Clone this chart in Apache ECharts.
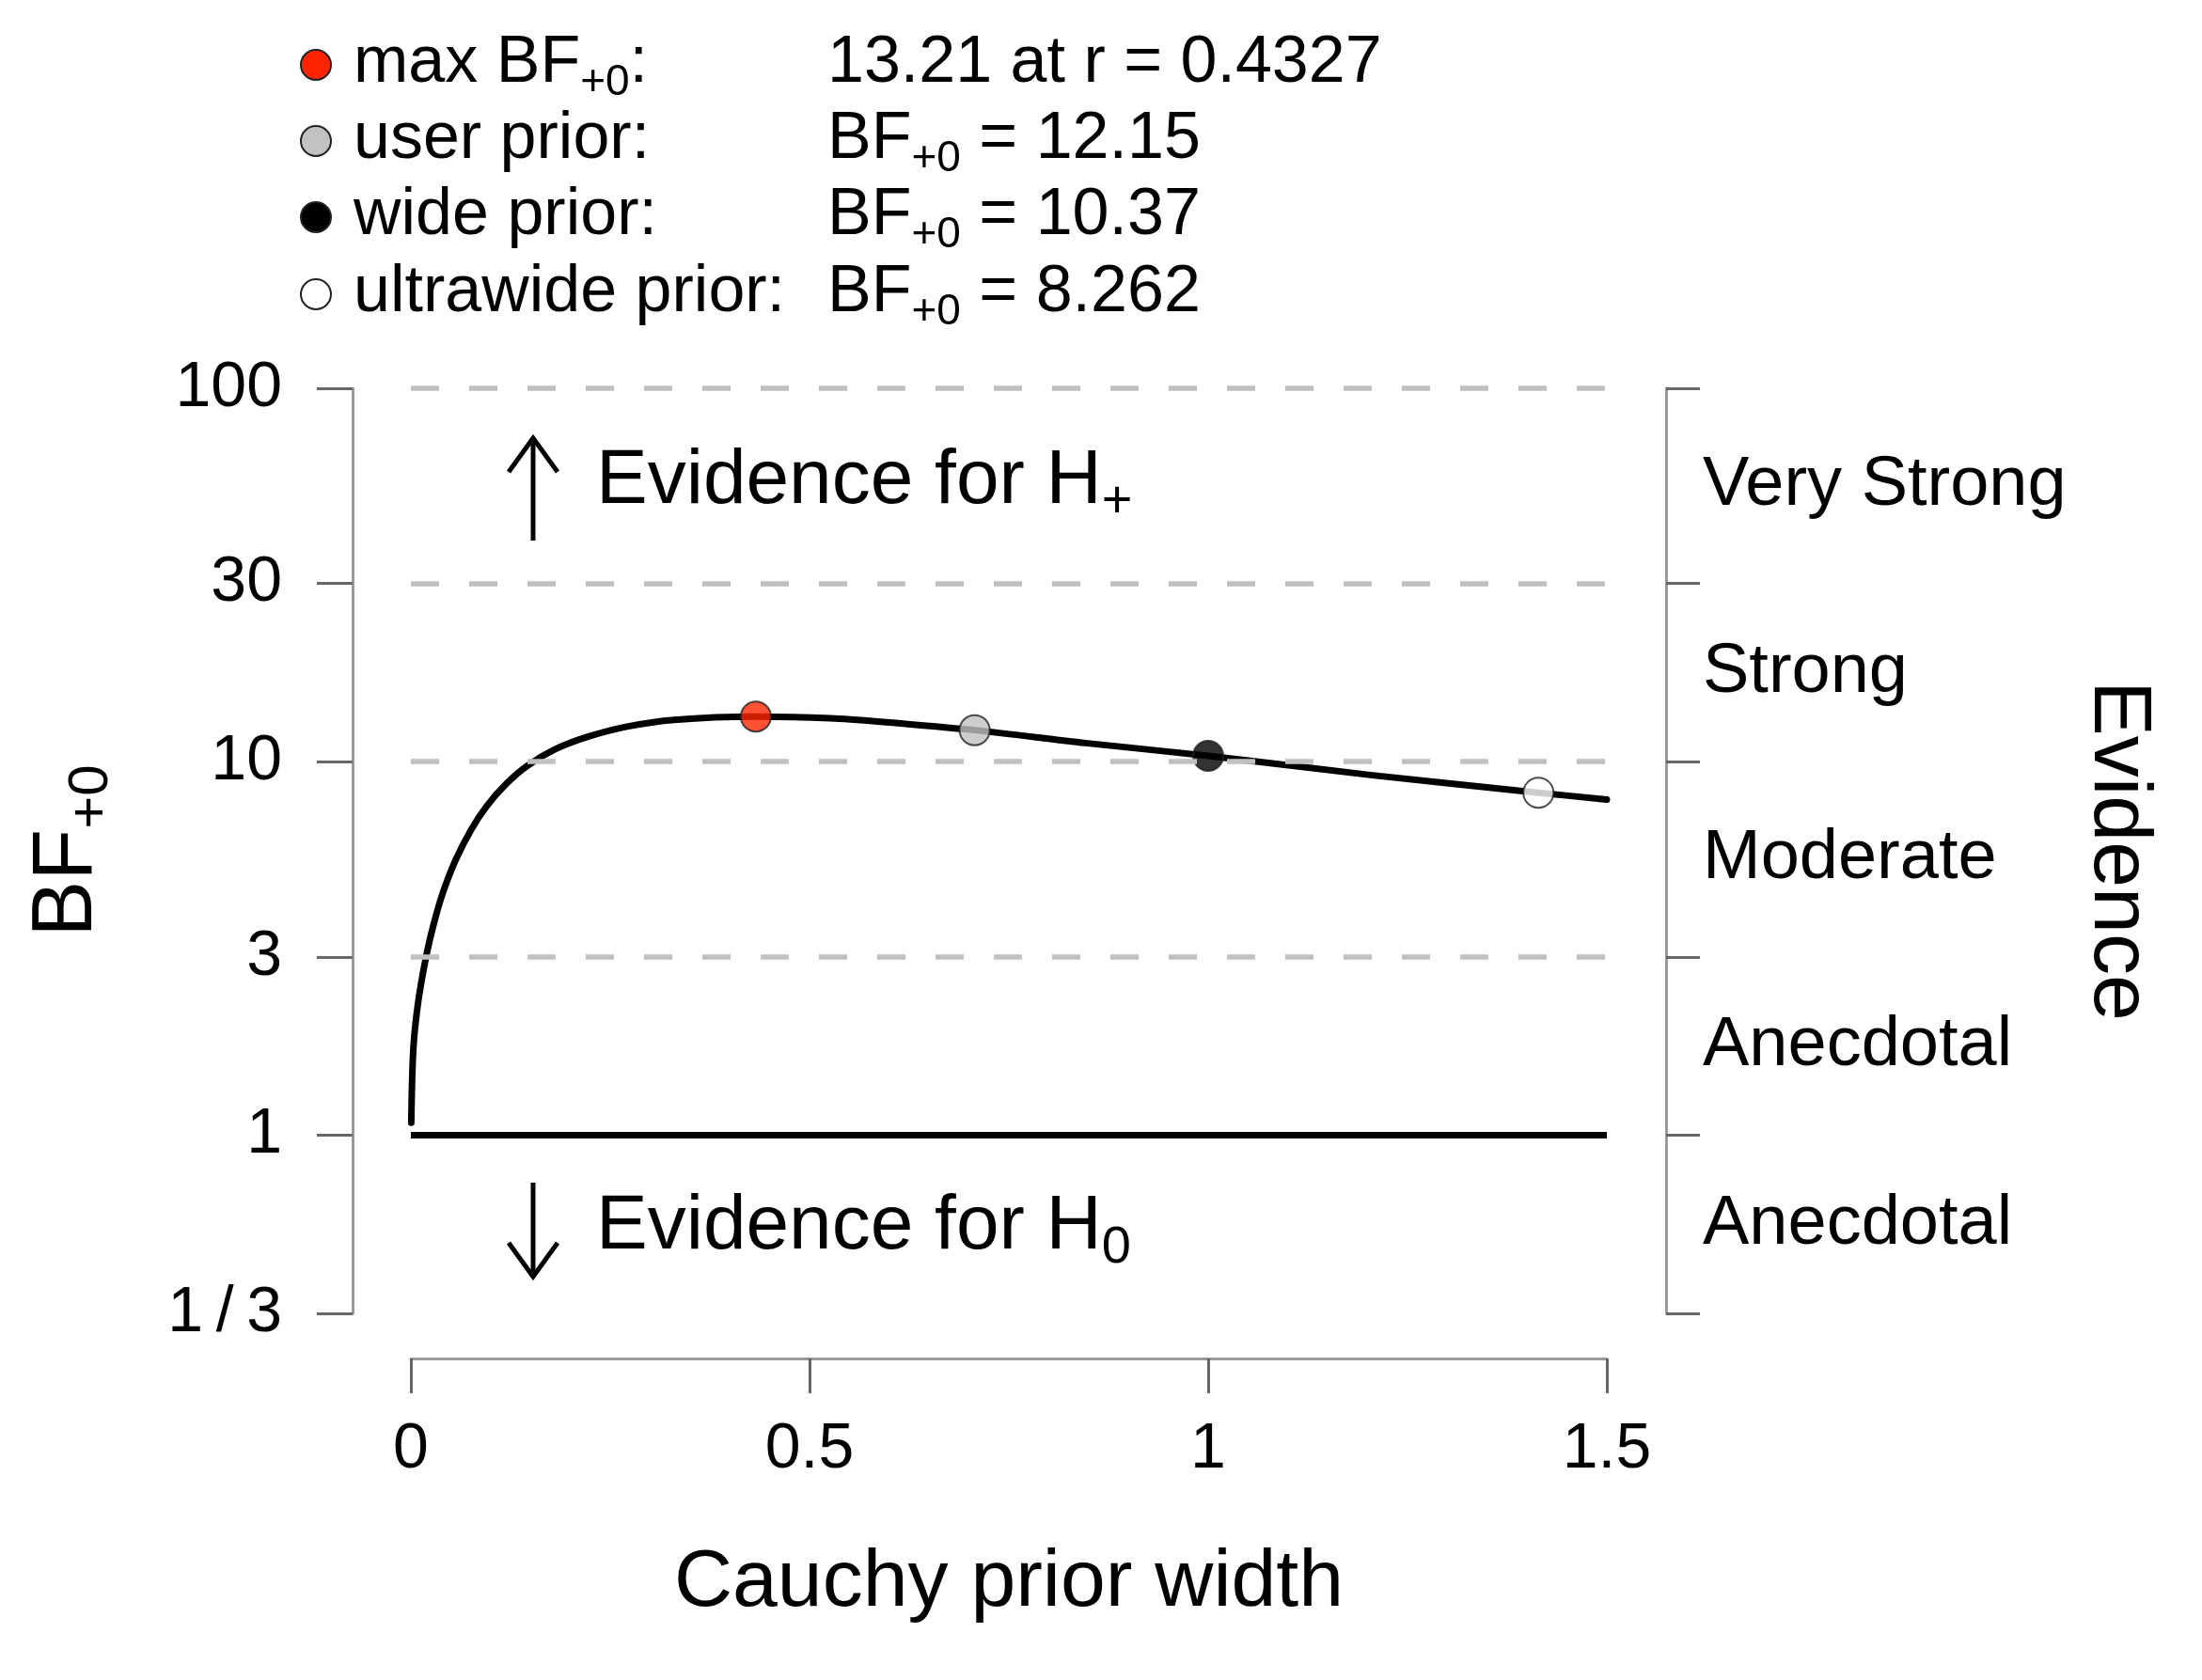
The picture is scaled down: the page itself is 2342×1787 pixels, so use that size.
<!DOCTYPE html>
<html>
<head>
<meta charset="utf-8">
<script src="https://cdn.jsdelivr.net/npm/echarts@6/dist/echarts.min.js"></script>
<style>
html, body { margin: 0; padding: 0; background: #fff; }
#chart { width: 2342px; height: 1787px; }
</style>
</head>
<body>
<div id="chart"></div>
<script>
// robustness curve: BF+0 against Cauchy prior width
const priorWidth = [0.0005, 0.003, 0.009, 0.019, 0.029, 0.040, 0.056, 0.076, 0.095, 0.119, 0.146, 0.181, 0.221, 0.271, 0.330, 0.4327, 0.526, 0.589, 0.7071, 0.846, 1.0, 1.206, 1.4142, 1.5];
const bfCurve = [1.08, 1.69, 2.26, 3.0, 3.7, 4.45, 5.45, 6.6, 7.6, 8.7, 9.75, 10.8, 11.65, 12.42, 12.95, 13.21, 13.08, 12.8, 12.15, 11.22, 10.37, 9.2, 8.262, 7.92];

// highlighted priors
const pointNames = ['max BF', 'user prior', 'wide prior', 'ultrawide prior'];
const pointWidth = [0.4327, 0.7071, 1, 1.4142];
const pointBF = [13.21, 12.15, 10.37, 8.262];
const pointColors = ['#ff2500', '#c2c2c2', '#000000', '#ffffff'];

// null line at BF = 1
const nullWidth = [0, 1.5];
const nullBF = [1, 1];

// axes
const xTicks = [0, 0.5, 1, 1.5];
const yTicks = [1 / 3, 1, 3, 10, 30, 100];
const yTickLabels = ['1\u2009/\u20093', '1', '3', '10', '30', '100'];
const gridValues = [1 / 3, 3, 10, 30, 100];
const evidenceBounds = [1 / 3, 1, 3, 10, 30, 100];
const evidenceLabels = ['Anecdotal', 'Anecdotal', 'Moderate', 'Strong', 'Very Strong'];

const FONT = "'Liberation Sans', Arial, Helvetica, sans-serif";
const evidenceMid = evidenceLabels.map((_, i) => Math.sqrt(evidenceBounds[i] * evidenceBounds[i + 1]));

function nearest(list, v) {
	let best = 0;
	list.forEach((x, i) => { if (Math.abs(Math.log(x) - Math.log(v)) < Math.abs(Math.log(list[best]) - Math.log(v))) best = i; });
	return best;
}

const chart = echarts.init(document.getElementById('chart'), null, { renderer: 'canvas' });

// subscript text: main run padded at the bottom, subscript bottom aligned
const richMain = {
	a: { fontSize: 70, fontFamily: FONT, color: '#000', padding: [0, 0, 8, 0], verticalAlign: 'bottom' },
	s: { fontSize: 46, fontFamily: FONT, color: '#000', verticalAlign: 'bottom' }
};
const richBig = {
	a: { fontSize: 82, fontFamily: FONT, color: '#000', padding: [0, 0, 10, 0], verticalAlign: 'bottom' },
	s: { fontSize: 56, fontFamily: FONT, color: '#000', verticalAlign: 'bottom' }
};

// legend block built from the point arrays
const legendBaseline = [91, 172, 253, 335];
const legendGraphics = [];
pointNames.forEach((name, i) => {
	const b = legendBaseline[i];
	legendGraphics.push({
		type: 'circle', shape: { cx: 336, cy: b - 22, r: 16 },
		style: { fill: pointColors[i], stroke: '#222', lineWidth: 2 }
	});
	const left = i === 0 ? '{a|max BF}{s|+0}{a|:}' : '{a|' + name + ':}';
	const right = i === 0
		? '{a|' + pointBF[i] + ' at r = ' + pointWidth[i] + '}'
		: '{a|BF}{s|+0}{a| = ' + pointBF[i] + '}';
	[[376, left], [880, right]].forEach(([x, txt]) => legendGraphics.push({
		type: 'text', x: x, y: b - 19,
		style: { text: txt, rich: richMain, align: 'left', verticalAlign: 'middle', textAlign: 'left', textVerticalAlign: 'middle' }
	}));
});

const arrowStyle = { stroke: '#000', lineWidth: 5, fill: null };
const annotations = [
	{ type: 'polyline', shape: { points: [[567, 575], [567, 466]] }, style: arrowStyle },
	{ type: 'polyline', shape: { points: [[541, 502], [567, 466], [593, 502]] }, style: arrowStyle },
	{ type: 'polyline', shape: { points: [[567, 1258], [567, 1358]] }, style: arrowStyle },
	{ type: 'polyline', shape: { points: [[541, 1322], [567, 1358], [593, 1322]] }, style: arrowStyle },
	{
		type: 'text', x: 634, y: 517,
		style: { text: '{a|Evidence for H}{s|+}', rich: richBig, align: 'left', verticalAlign: 'middle', textAlign: 'left', textVerticalAlign: 'middle' }
	},
	{
		type: 'text', x: 634, y: 1310,
		style: { text: '{a|Evidence for H}{s|0}', rich: richBig, align: 'left', verticalAlign: 'middle', textAlign: 'left', textVerticalAlign: 'middle' }
	}
];

const axisLineStyle = { color: '#9a9a9a', width: 3 };
const tickStyle = { color: '#666', width: 3 };

const option = {
	animation: false,
	backgroundColor: '#fff',
	textStyle: { fontFamily: FONT },
	grid: { left: 437, right: 633, top: 413, bottom: 390, containLabel: false },
	xAxis: {
		type: 'value', min: 0, max: 1.5, interval: 0.5, offset: 48,
		axisLine: { show: true, onZero: false, lineStyle: axisLineStyle },
		axisTick: { show: true, length: 37, lineStyle: tickStyle },
		axisLabel: { fontSize: 68, color: '#000', margin: 63, fontFamily: FONT },
		splitLine: { show: false },
		name: 'Cauchy prior width', nameLocation: 'middle', nameGap: 196,
		nameTextStyle: { fontSize: 86, color: '#000', fontFamily: FONT }
	},
	yAxis: [{
		type: 'log', min: 1 / 3, max: 100, offset: 62,
		axisLine: { show: true, onZero: false, lineStyle: axisLineStyle },
		axisTick: { show: true, length: 38, customValues: yTicks, lineStyle: tickStyle },
		axisLabel: {
			fontSize: 68, color: '#000', margin: 75, fontFamily: FONT, customValues: yTicks,
			formatter: v => yTickLabels[nearest(yTicks, v)]
		},
		splitLine: { show: false },
		minorTick: { show: false },
		name: '{a|BF}{s|+0}', nameLocation: 'middle', nameRotate: 90, nameGap: 248,
		nameTextStyle: { rich: {
			a: { fontSize: 90, fontFamily: FONT, color: '#000', padding: [0, 0, 10, 0], verticalAlign: 'bottom' },
			s: { fontSize: 60, fontFamily: FONT, color: '#000', verticalAlign: 'bottom' }
		} }
	}, {
		type: 'log', min: 1 / 3, max: 100, position: 'right', offset: 63,
		axisLine: { show: true, onZero: false, lineStyle: axisLineStyle },
		axisTick: { show: true, length: 36, customValues: evidenceBounds, lineStyle: tickStyle },
		axisLabel: {
			fontSize: 74, color: '#000', margin: 39, fontFamily: FONT, customValues: evidenceMid,
			formatter: v => evidenceLabels[nearest(evidenceMid, v)]
		},
		splitLine: { show: false },
		name: 'Evidence', nameLocation: 'middle', nameRotate: -90, nameGap: 434,
		nameTextStyle: { fontSize: 88, color: '#000', fontFamily: FONT }
	}],
	series: [{
		name: 'null', type: 'line', z: 1,
		data: nullWidth.map((x, i) => [x, nullBF[i]]),
		showSymbol: false, symbol: 'none',
		lineStyle: { color: '#000', width: 7 },
		markLine: {
			silent: true, symbol: 'none', label: { show: false },
			lineStyle: { color: '#c0c0c0', width: 5.5, type: [30, 32] },
			data: gridValues.map(v => ({ yAxis: v }))
		}
	}, {
		name: 'BF', type: 'line', z: 3,
		data: priorWidth.map((x, i) => [x, bfCurve[i]]),
		showSymbol: false, symbol: 'none',
		smooth: 0.3,
		lineStyle: { color: '#000', width: 7, cap: 'round', join: 'round' }
	}, {
		name: 'priors', type: 'scatter', z: 4,
		symbolSize: 32,
		data: pointNames.map((n, i) => ({
			name: n, value: [pointWidth[i], pointBF[i]],
			itemStyle: { color: pointColors[i], borderColor: '#222', borderWidth: 2 }
		}))
	}],
	graphic: legendGraphics.concat(annotations)
};

chart.setOption(option);
</script>
</body>
</html>
